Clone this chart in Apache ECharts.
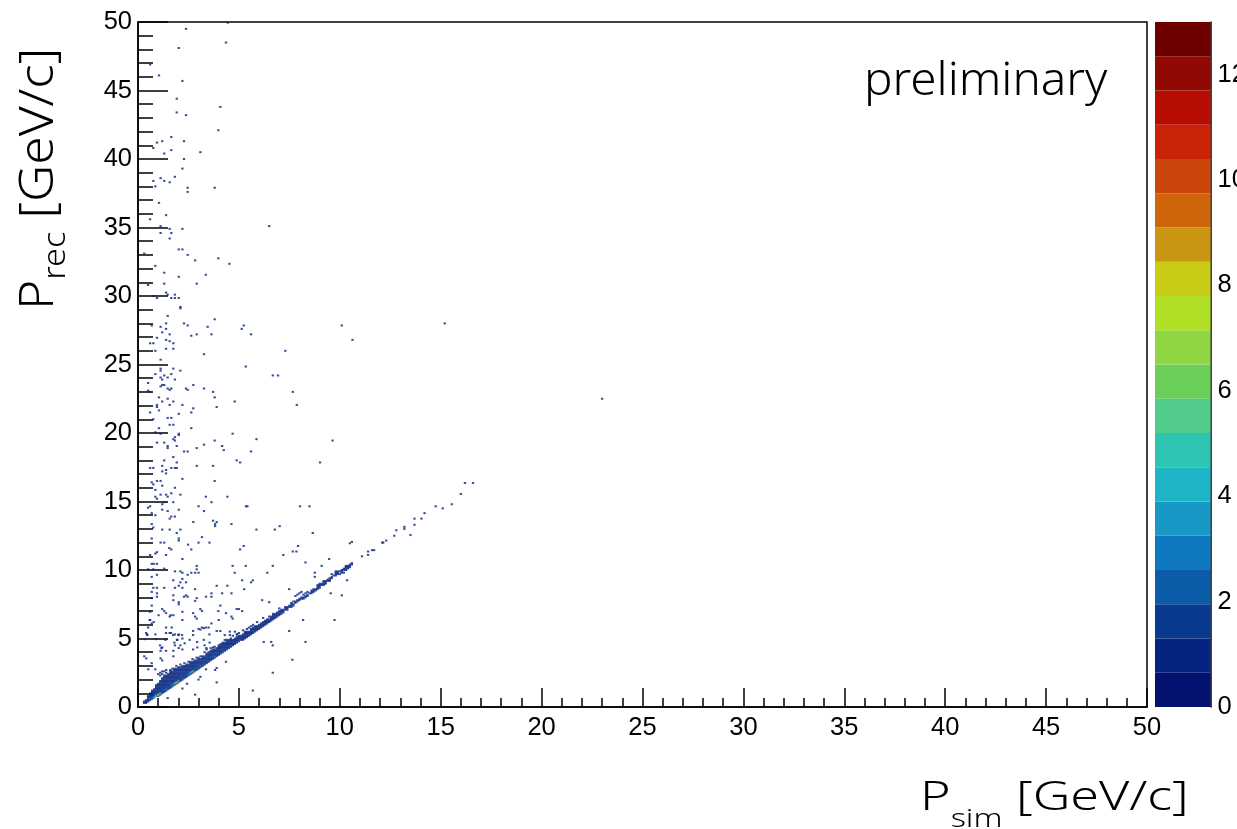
<!DOCTYPE html>
<html><head><meta charset="utf-8">
<style>html,body{margin:0;padding:0;background:#fff}#c{width:1237px;height:829px}</style>
<script src="https://cdn.jsdelivr.net/npm/echarts@6/dist/echarts.min.js"></script>
</head><body><div id="c"></div>
<script>
// Colour scale, bottom to top
const paletteColors = ['#02126E','#052380','#0A3A90','#0C5BA8','#0E78C0','#1899C5','#1EB5C6','#2EC4B2','#50CB8B','#6ACF58','#8FD642','#B0E026','#C8CC14','#CA9512','#CE650A','#CC450A','#CA2308','#B80D05','#920803','#6E0000'];
const zMax = 13;
const zTicks = [0,2,4,6,8,10,12];
const axisMax = 50;

// Isolated occupied cells [Psim, Prec]
const upperCells = [[2.38,49.5],[4.45,49.95],[4.36,48.5],[2.02,48.1],[.6,46.9],[1.04,46.1],[2.2,45.7],[1.92,44.4],[4.08,43.8],[1.92,43.4],[2.38,43.2],[3.98,42.1],[1.65,41.6],[2.28,41.3],[1.2,41.3],[.94,41.2],[.76,40.8],[1.65,40.65],[3.09,40.5],[1.3,40.4],[2.28,40],[2.2,39.3],[1.83,38.7],[1.12,38.6],[.76,38.4],[1.3,38.4],[1.57,38.3],[.86,38],[2.46,37.9],[2.46,37.6],[3.8,37.9],[1.04,36.8],[1.39,35.9],[.6,35.6],[6.5,35.1],[1.12,35.1],[1.57,34.9],[2.2,34.9],[1.12,34.6],[1.65,34.6],[1.57,34.2],[2.02,33.4],[2.2,33.4],[.31,33.1],[2.46,33],[2.83,32.6],[3.98,32.75],[4.53,32.35],[.86,32.2],[1.3,31.7],[3.36,31.55],[2.02,31.4],[2.91,30.9],[1.3,30.9],[.5,30.8],[1.39,30.25],[1.47,30.1],[1.83,30.1],[.76,30],[.94,29.85],[1.65,29.85],[1.83,29.85],[2.02,29.85],[2.1,29.2],[2.1,29.1],[1.47,28.55],[3.8,28.3],[1.39,28],[2.28,28],[2.46,27.85],[.68,27.85],[5.24,27.85],[10.1,27.85],[15.2,28],[1.12,27.75],[3.45,27.75],[5.14,27.6],[1.39,27.6],[1.2,27.35],[1.57,27.2],[2.91,27.2],[3.64,27.2],[5.6,27.2],[2.64,27.1],[.94,26.95],[10.63,26.8],[1.39,26.8],[1.57,26.7],[.6,26.55],[.76,26.55],[1.75,26.55],[1.39,26.15],[1.75,26.15],[.86,26],[7.3,26],[3.27,25.75],[1.12,25.35],[5.34,24.85],[1.75,24.7],[1.12,24.7],[1.12,24.55],[2.1,24.55],[.86,24.3],[1.65,24.3],[6.68,24.2],[6.94,24.2],[1.3,24.2],[1.12,24.05],[1.47,24.05],[1.2,23.9],[1.83,23.9],[.5,23.65],[1.2,23.5],[1.3,23.5],[2.74,23.5],[1.12,23.4],[1.47,23.25],[1.65,23.25],[1.57,23.15],[2.38,23.25],[2.46,23.15],[3.27,23.25],[.5,23.1],[.6,23],[3.72,23],[7.67,23],[1.04,22.6],[3.8,22.6],[1.47,22.5],[23,22.5]];
const middleCells = [[7.87,22.05],[4.79,22.3],[3.9,21.9],[.94,22.05],[.94,21.9],[1.2,22.3],[1.57,22.05],[1.75,22.3],[2.2,22.05],[2.74,21.8],[2.64,21.5],[.6,21.5],[1.04,21.65],[2.02,21.4],[1.47,21.1],[1.65,21.1],[1.57,20.6],[1.75,20.6],[.76,21],[2.64,20.35],[1.04,20.35],[.86,20.05],[1.12,19.95],[2.02,19.95],[2.02,19.85],[4.69,19.95],[1.83,19.7],[1.75,19.55],[1.83,19.45],[5.87,19.55],[9.64,19.45],[3.8,19.45],[.94,19.3],[1.3,19.3],[3.27,19.15],[4.17,19.05],[4.25,18.75],[1.47,19.05],[1.47,18.9],[1.92,19.05],[2.91,18.9],[2.28,18.65],[2.46,18.65],[5.6,18.65],[1.75,18.25],[1.3,18],[1.92,17.85],[4.89,18],[5.06,17.85],[9.02,17.85],[1.2,17.6],[.6,17.45],[.76,17.45],[1.65,17.45],[1.83,17.45],[1.92,17.45],[2.91,17.6],[3.72,17.6],[1.39,17.3],[1.2,17.2],[1.39,17.05],[2.2,16.65],[3.8,16.5],[.94,16.5],[1.12,16.5],[.68,16.4],[.76,16.25],[1.2,16.15],[1.83,16],[.86,15.85],[1.12,15.5],[1.65,15.6],[2.1,15.5],[1.39,15.5],[1.47,15.35],[3.36,15.35],[4.43,15.35],[.86,15.35],[.94,15.2],[1.75,14.95],[1.3,14.95],[3.64,14.95],[.6,14.65],[.5,14.55],[1.2,14.8],[3,14.65],[5.35,14.65],[5.42,14.65],[8.03,14.65],[8.5,14.65],[2.02,14.4],[1.2,14.4],[1.47,14.3],[3.27,14.3],[.68,14.15],[.86,14],[1.83,13.9],[1.65,13.9],[1.57,13.75],[3.72,13.6],[3.9,13.5],[3.82,13.35],[2.74,13.5],[.68,13.35],[4.63,13.35],[3.82,13.2],[.76,13.1],[7.02,13.2],[6.78,12.95],[5.87,12.95],[1.2,12.95],[1.57,12.95],[2.1,12.95],[8.66,12.7],[1.92,12.7],[.68,12.3],[2.02,12.3],[2.02,12.15],[3.17,12.4],[1.12,12],[1.3,12],[3,12],[3.54,12],[2.48,11.85],[5.24,11.75],[7.93,11.75],[1.55,11.6],[1.65,11.5],[2.64,11.5],[5.06,11.5],[7.67,11.35],[7.85,11.35],[.94,11.3],[.86,11.2],[1.39,11.1],[.6,11.1],[7.2,11.1],[2.2,10.8],[9.47,10.8],[8.3,10.55],[.68,10.45],[.78,10.45],[.94,10.45],[1.3,10.1],[2.91,10.3],[4.69,10.3],[5.34,10.3],[6.68,10.3],[9.1,10.3],[2.91,10.05],[.5,10.05],[.76,10.05],[1.83,9.9],[2.1,9.9],[2.2,9.8],[2.64,9.8],[2.83,9.8],[3,9.8],[2.46,9.65],[.94,9.65],[.68,9.5],[4.79,9.8],[6.41,9.8],[8.76,9.8],[1.75,9.25],[2.2,9.35],[5.16,9.25],[5.69,9.25],[5.6,9.1],[10.36,9.25],[8.76,9.5],[2.1,9.1],[2.38,9.1],[2.02,8.85],[2.2,8.7],[3.9,8.85],[4.43,8.85],[1.83,8.7],[.76,8.7],[.94,8.7],[1.3,8.7],[.68,8.4],[2.83,8.6],[5.26,8.6],[7.49,8.6],[.94,8.3],[3.64,8.3],[4.17,8.3],[4.63,8.3],[9.55,8.3],[10.1,8.15],[2.38,8.15],[2.28,8.05],[2.46,8.05],[3.37,8.05],[3.64,8.05],[1.75,8.15],[.94,8.05],[.68,7.95],[2.91,7.95],[2.83,7.75],[1.75,7.8],[2.02,7.65],[2.02,7.5],[6.15,7.8],[6.5,7.65],[4.08,7.4],[.68,7.4],[4.89,7.15],[5,7.15],[5.16,7],[1.2,7.15],[1.3,7],[3.09,7.15],[3.17,7],[3.98,7],[.6,6.95],[2.2,6.95],[1.39,6.85],[2.73,6.85],[1.75,6.7],[1.57,6.6],[2.83,6.6],[4.36,6.85],[2.91,6.45],[4.63,6.6],[4.69,6.45],[.6,6.35],[2.2,6.35],[4,6.35],[8.18,6.35],[9.74,6.35],[.68,6.1],[3.64,6.1],[3.36,5.8],[3.17,5.8],[3,5.7],[1.39,5.8],[1.67,5.8],[.5,5.8],[7.49,5.55],[2.73,5.55],[2.02,5.3],[1.39,5.4],[1.57,5.4],[3.9,5.55],[4.08,5.55],[3.54,5.3],[.45,5.3],[.86,5.3],[1.83,5.3]];
const lowerCells = [[1.02,6.7],[1.62,6.7],[.58,6.35],[.78,6.2],[3.26,5.75],[3.09,5.65],[3.5,5.8],[.4,5.4],[.46,5.25],[1.64,5.4],[1.74,5.25],[2,5.25],[2.18,5.25],[2.73,5.25],[4.55,5.5],[4.55,5.25],[4.8,5.5],[4.3,5.25],[4.9,5.3],[.91,4.95],[.33,4.95],[1.36,4.9],[1.95,4.9],[2.2,5],[2.56,4.9],[2.93,4.75],[3.26,4.9],[3.55,4.7],[1.09,4.5],[1.16,4.3],[1.8,4.7],[2.02,4.3],[2.31,4.65],[2.94,4.35],[3.3,4.5],[3.39,4.3],[3.72,4.35],[6.23,4.75],[6.6,4.75],[6.68,4.5],[8.3,4.75],[1.2,4.35],[1.12,4.1],[1.93,4.9],[1.83,4.5],[2.1,4.5],[1.75,4.1],[1.39,4.1],[2.2,4.2],[2.73,4.2],[.31,3.7],[.41,3.55],[1.2,3.4],[1.12,3.55],[1.75,3.7],[.68,3.2],[7.65,3.45],[.51,2.75],[.86,2.75],[1.2,2.6],[3.9,2.85],[4.36,3.3],[3.82,2.7],[3.37,2.75],[3.09,2.2],[3,2],[6.68,2.5],[2.43,1.7],[3.9,1.8],[2.2,1.35],[5.69,1.2],[2.83,.9],[1.47,.65]];
const trailCells = [[10.6,12.05],[10.5,11.95],[11.1,11],[11.4,11.35],[11.4,11.1],[11.6,11.45],[11.7,11.45],[12.1,12],[12.15,12],[12.3,12.15],[12.7,12.5],[12.8,12.9],[13.2,13.15],[13.2,13],[13.5,12.55],[13.7,13.3],[13.7,13.75],[14.05,13.75],[14.2,14.15],[14.75,14.65],[15.1,14.5],[15.55,14.8],[16,15.55],[16.2,16.35],[16.6,16.35]];
// Occupied cells of the main band, listed per Psim column
const bandColumns = [[.3,[.3,.4]],[.4,[.3,.4,.5]],[.5,[.4,.5,.6,.7]],[.6,[.5,.6,.7,.8,1]],[.7,[.6,.7,.8,.9,1.1]],[.8,[.7,.8,.9,1,1.2]],[.9,[.8,.9,1,1.1,1.3,1.4]],[1,[.9,1,1.1,1.2,1.4,1.5,2.4]],[1.1,[1,1.1,1.2,1.3,1.5,1.7,2.3,2.5]],[1.2,[1.1,1.2,1.3,1.4,1.6,1.8,1.9,2.4]],[1.3,[1.2,1.3,1.4,1.5,1.7,2,2.2,2.6]],[1.4,[1.3,1.4,1.5,1.6,1.7,1.9,2.1,2.5,2.7]],[1.5,[1.4,1.5,1.6,1.7,1.8,2,2.3]],[1.6,[1.5,1.6,1.7,1.8,2,2.2,2.4,2.7]],[1.7,[1.6,1.7,1.8,1.9,2.1,2.3,2.6,2.8]],[1.8,[1.7,1.8,1.9,2,2.1,2.4,2.7]],[1.9,[1.8,1.9,2,2.1,2.2,2.5,2.8,3]],[2,[1.9,2,2.1,2.2,2.4,2.6,2.9]],[2.1,[2,2.1,2.2,2.3,2.5,2.7,3.1]],[2.2,[2.1,2.2,2.3,2.4,2.6,2.8,3]],[2.3,[2.2,2.3,2.4,2.5,2.7,3.2]],[2.4,[2.3,2.4,2.5,2.6,2.8,3.1]],[2.5,[2.4,2.5,2.6,2.7,2.9,3.3]],[2.6,[2.5,2.6,2.7,2.8,3,3.2]],[2.7,[2.6,2.7,2.8,2.9,3.1,3.5]],[2.8,[2.7,2.8,2.9,3,3.3]],[2.9,[2.8,2.9,3,3.1,3.2,3.6]],[3,[2.9,3,3.1,3.2,3.4]],[3.1,[3,3.1,3.2,3.3,3.7]],[3.2,[3.1,3.2,3.3,3.5,3.6]],[3.3,[3.2,3.3,3.4,3.5,4]],[3.4,[3.3,3.4,3.5,3.6,3.8,4.2]],[3.5,[3.4,3.5,3.6,3.7,3.9]],[3.6,[3.5,3.6,3.7,3.8,4.1,4.3]],[3.7,[3.6,3.7,3.8,3.9,4]],[3.8,[3.7,3.8,3.9,4,4.4]],[3.9,[3.8,3.9,4,4.2]],[4,[3.8,3.9,4,4.1,4.4]],[4.1,[4,4.1,4.2,4.4]],[4.2,[4,4.2,4.3,4.6]],[4.3,[4.2,4.3,4.4,4.7,4.9]],[4.4,[4.2,4.3,4.4,4.5,4.8]],[4.5,[4.4,4.5,4.6,4.9]],[4.6,[4.5,4.6,4.7,5]],[4.7,[4.6,4.7,4.8,5.2]],[4.8,[4.7,4.8]],[4.9,[4.7,4.8,4.9,5.3]],[5,[4.8,4.9,5,5.4]],[5.1,[5,5.1]],[5.2,[5,5.1,5.6]],[5.3,[5,5.1,5.2,5.5]],[5.4,[5.2,5.3]],[5.5,[5.3,5.4,5.8]],[5.6,[5.4,5.5,5.6,5.9]],[5.7,[5.5,5.6,5.7,6]],[5.8,[5.6,5.7]],[5.9,[5.7,5.8,6.2]],[6,[5.8,5.9]],[6.1,[5.9,6,6.1]],[6.2,[6,6.1,6.5]],[6.3,[6.1,6.2]],[6.4,[6.2,6.3]],[6.5,[6.3,6.4,6.6]],[6.6,[6.4,6.5]],[6.7,[6.5,6.6,6.8]],[6.8,[6.6,6.7]],[6.9,[6.7,6.8,6.9]],[7,[6.8,6.9,7.2]],[7.1,[6.9,7]],[7.2,[7,7.1]],[7.3,[7.1,7.2]],[7.4,[7.2]],[7.5,[7.3,7.4]],[7.6,[7.4,7.5]],[7.7,[7.4,7.5]],[7.8,[7.6,7.7,8.1]],[7.9,[7.7,7.8,8.2]],[8,[7.8,7.9,8.3]],[8.1,[7.9,8,8.4]],[8.2,[8,8.2]],[8.3,[8.1]],[8.4,[8.2]],[8.5,[8.3]],[8.6,[8.3,8.4]],[8.7,[8.4,8.5]],[8.8,[8.5,8.6]],[8.9,[8.7,8.8]],[9,[8.8,8.9]],[9.1,[8.9,9]],[9.2,[9,9.1]],[9.3,[9.1,9.2]],[9.5,[9.3,9.4]],[9.6,[9.5]],[9.7,[9.6]],[9.8,[9.7,9.9]],[9.9,[9.9]],[10,[9.7,9.9]],[10.2,[9.8,10,10.1]],[10.3,[10,10.2]],[10.4,[10.2,10.3]],[10.5,[10.3,10.4]],[10.6,[10.4,10.5]]];
// Further occupied cells filling the wide part of the band
const bandFillColumns = [[.5,[.8]],[.6,[.9]],[.7,[1,1.2]],[.8,[1.1,1.3]],[.9,[1.2,1.5,1.6]],[1,[.8,1.3,1.6,1.7]],[1.1,[.9,1.4,1.6,1.8,1.9]],[1.2,[1,1.5,1.7,2,2.1]],[1.3,[1.1,1.6,1.8,1.9,2.1,2.3]],[1.4,[1.2,1.8,2,2.2,2.3]],[1.5,[1.3,1.9,2.1,2.2,2.4]],[1.6,[1.4,1.9,2.1,2.3,2.5,2.6]],[1.7,[1.5,2,2.2,2.4,2.5]],[1.8,[1.6,2.2,2.3,2.5,2.6,2.8]],[1.9,[1.7,2.3,2.4,2.6,2.7]],[2,[1.8,2.3,2.5,2.7,2.8]],[2.1,[1.9,2.4,2.6,2.8,2.9]],[2.2,[2,2.5,2.7,2.9]],[2.3,[2.1,2.6,2.8,2.9,3]],[2.4,[2.2,2.7,2.9,3]],[2.5,[2.3,2.8,3,3.1]],[2.6,[2.4,2.9,3.1,3.3]],[2.7,[2.5,3,3.2,3.3]],[2.8,[2.6,3.1,3.2,3.4]],[2.9,[2.7,3.3,3.4]],[3,[2.8,3.3,3.5,3.6]],[3.1,[2.9,3.4,3.5]],[3.2,[3,3.4,3.7]],[3.3,[3.1,3.6,3.7]],[3.4,[3.2,3.7,3.9]],[3.5,[3.3,3.8,4]],[3.6,[3.4,3.9,4]],[3.7,[3.5,4.1,4.2]],[3.8,[3.6,4.1,4.2]],[3.9,[3.7,4.1,4.3]],[4,[4.2,4.3,4.5]],[4.1,[3.9,4.3,4.5,4.6]],[4.2,[4.1,4.4,4.5,4.7]],[4.3,[4.1,4.5,4.6]],[4.4,[4.6,4.7,4.9]],[4.5,[4.3,4.7,4.8]],[4.6,[4.4,4.8,4.9]],[4.7,[4.5,4.9]],[4.8,[4.6,4.9,5]],[4.9,[5,5.1]],[5,[5.1,5.2]],[5.1,[4.9,5.2]],[5.2,[4.9,5.2,5.3]],[5.3,[5.3,5.4]],[5.4,[5.1,5.4,5.5,5.7]],[5.5,[5.2,5.5]],[5.6,[5.3,5.7]],[5.7,[5.4,5.8]],[5.8,[5.5,5.8,5.9]],[5.9,[5.6,5.9]],[6,[5.7,6]],[6.1,[5.8]],[6.2,[5.9,6.2]],[6.3,[6,6.3]],[6.4,[6.1,6.4]],[6.5,[6.2]],[6.6,[6.3,6.6]],[6.7,[6.4,6.7]],[6.8,[6.5,6.8]],[6.9,[6.6]],[7,[6.7,7]],[7.1,[6.8,7.1]],[7.2,[6.9]],[7.3,[7.3]],[7.4,[7.1,7.3]],[7.6,[7.3,7.6]],[7.7,[7.7]],[8.2,[7.9]],[8.3,[8,8.3]],[8.4,[8.1,8.4]],[8.6,[8.5]],[8.7,[8.6]],[8.9,[8.6,8.9]],[9,[8.7,9]],[9.2,[8.9,9.2]],[9.3,[9]],[9.4,[9.2,9.3]],[9.5,[9.2]],[9.6,[9.4,9.7]],[9.8,[9.6,9.8]],[9.9,[9.7,9.8]],[10.1,[9.8,9.9,10]],[10.3,[10.1,10.3]],[10.4,[10.1]],[10.5,[10.2]]];
// Cells with more than one entry [Psim, Prec, count]
const heavyCells = [[.7,.7,2],[.8,.8,2],[.9,.9,2],[1.2,1.2,2],[1.3,1.3,2],[1.5,1.5,2],[1.6,1.6,2],[2.1,2.1,2],[2.2,2.2,2],[2.3,2.3,2],[2.4,2.4,2],[2.9,2.9,2],[3,3,2],[3.2,3.2,2],[3.4,3.4,2],[3.6,3.6,2],[3.7,3.7,2],[3.9,3.9,2],[4.2,4.2,2],[4.4,4.3,2],[4.6,4.5,2],[5,4.9,2],[5.7,5.6,2],[.6,.6,3],[.8,.7,4],[.9,.8,5],[1,.9,8],[1.1,1,5],[1.4,1.3,3],[1.7,1.6,3],[1.8,1.7,5],[1.9,1.8,8],[2,1.9,4],[2.5,2.4,3],[2.6,2.5,4],[2.7,2.6,6],[2.8,2.7,3],[3.1,3,3],[3.8,3.7,3],[4.2,4,3]];

const histData = [];
[upperCells, middleCells, lowerCells, trailCells].forEach(list => list.forEach(c => histData.push([c[0], c[1], 1])));
[bandColumns, bandFillColumns].forEach(cols => cols.forEach(col => col[1].forEach(y => histData.push([col[0], y, 1]))));
heavyCells.forEach(c => histData.push(c));

const step = zMax / paletteColors.length;
const pieces = paletteColors.map((color, i) => ({gte: i * step, lt: (i + 1) * step, color}));
const colorbarSeries = paletteColors.map(color => ({
  type: 'bar', xAxisIndex: 1, yAxisIndex: 1, stack: 'z', barWidth: '100%', silent: true,
  itemStyle: {color}, data: [step]
}));

const tickLabel = {fontFamily: '"Liberation Sans"', fontSize: 25.5, color: '#000'};
const titleFont = '"Noto Sans"';
const mainRich = {m: {font: '300 40px ' + titleFont, fill: '#000', padding: [0,0,13,0], verticalAlign: 'bottom'},
                  s: {font: '300 25px ' + titleFont, fill: '#000', verticalAlign: 'bottom'}};
const sideRich = {m: {font: '300 48px ' + titleFont, fill: '#000', padding: [0,0,9,0], verticalAlign: 'bottom'},
                  s: {font: '300 32px ' + titleFont, fill: '#000', verticalAlign: 'bottom'}};
const chart = echarts.init(document.getElementById('c'), null, {renderer: 'canvas'});
chart.setOption({
  animation: false,
  backgroundColor: '#fff',
  grid: [
    {left: 138, top: 22, width: 1009, height: 685, show: true, borderColor: '#000', borderWidth: 1.5, backgroundColor: '#fff', outerBoundsMode: 'none'},
    {left: 1155, top: 22, width: 55.5, height: 685, outerBoundsMode: 'none'}
  ],
  xAxis: [
    {gridIndex: 0, type: 'value', min: 0, max: axisMax, interval: 5, splitLine: {show: false},
     axisLine: {show: true, onZero: false, lineStyle: {color: '#000', width: 1.5}},
     axisTick: {inside: true, length: 19, lineStyle: {color: '#000', width: 1.5}},
     minorTick: {show: true, splitNumber: 5, length: 9, lineStyle: {color: '#000', width: 1.5}},
     axisLabel: {...tickLabel, margin: 8, showMinLabel: true, showMaxLabel: true, hideOverlap: false}},
    {gridIndex: 1, type: 'category', data: ['z'], show: false}
  ],
  yAxis: [
    {gridIndex: 0, type: 'value', min: 0, max: axisMax, interval: 5, splitLine: {show: false},
     axisLine: {show: true, onZero: false, lineStyle: {color: '#000', width: 1.5}},
     axisTick: {inside: true, length: 30, lineStyle: {color: '#000', width: 1.5}},
     minorTick: {show: true, splitNumber: 5, length: 15, lineStyle: {color: '#000', width: 1.5}},
     axisLabel: {...tickLabel, margin: 6, showMinLabel: true, showMaxLabel: true, hideOverlap: false}},
    {gridIndex: 1, type: 'value', position: 'right', min: 0, max: zMax, splitLine: {show: false},
     axisLine: {show: true, onZero: false, lineStyle: {color: '#000', width: 1.5}},
     axisTick: {inside: true, length: 30, customValues: zTicks, lineStyle: {color: '#000', width: 1.5}},
     axisLabel: {...tickLabel, margin: 7, customValues: zTicks, hideOverlap: false}}
  ],
  visualMap: {type: 'piecewise', show: false, seriesIndex: 0, dimension: 2, pieces},
  series: [
    {type: 'scatter', xAxisIndex: 0, yAxisIndex: 0, symbol: 'rect', symbolSize: [2.3, 2], silent: true, clip: true, data: histData},
    ...colorbarSeries
  ],
  graphic: [
    {type: 'text', x: 864, y: 59, scaleX: 1.035, silent: true,
     style: {text: 'preliminary', font: '300 46px ' + titleFont, fill: '#000'}},
    {type: 'text', x: 920, y: 779, scaleX: 1.3, silent: true,
     style: {text: '{m|P}{s|sim}{m| [GeV/c]}', fill: '#000', rich: mainRich}},
    {type: 'text', x: 15, y: 310, rotation: Math.PI / 2, scaleX: 1.07, silent: true,
     style: {text: '{m|P}{s|rec}{m| [GeV/c]}', fill: '#000', rich: sideRich}}
  ]
});
</script></body></html>
